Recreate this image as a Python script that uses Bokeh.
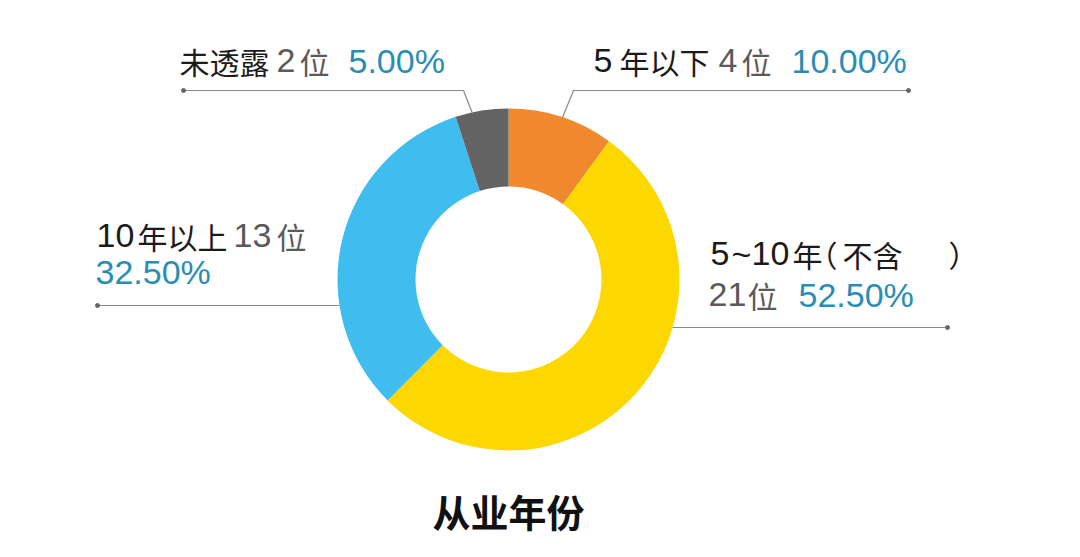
import math
import re
from bokeh.plotting import figure
from bokeh.models import Range1d
from bokeh.core.properties import value
from bokeh.embed import file_html
from bokeh.resources import INLINE

# ---- data ----
categories = ["5 年以下", "5 ~ 10 年（不含）", "10 年以上", "未透露"]
counts = [4, 21, 13, 2]
count_labels = ["4 位", "21 位", "13 位", "2 位"]
percents = ["10.00%", "52.50%", "32.50%", "5.00%"]
colors = ["#F0892E", "#FDD700", "#3EBDEE", "#636363"]
title = "从业年份"

# ---- layout (image pixel coordinates; y flipped below) ----
W, H = 1064, 541
def Y(py):
    return 557 - py

p = figure(width=W, height=H, x_range=Range1d(0, W), y_range=Range1d(557 - H, 557),
           output_backend="svg", toolbar_location=None, min_border=0)
p.axis.visible = False
p.grid.visible = False
p.outline_line_color = None
p.background_fill_color = "white"

cx, cy = 508, Y(279)
R_out, R_in = 171, 93

total = sum(counts)
cum = 0
starts, ends = [], []
for c in counts:
    starts.append(math.pi / 2 - 2 * math.pi * cum / total)
    cum += c
    ends.append(math.pi / 2 - 2 * math.pi * cum / total)

p.annular_wedge(x=[cx] * len(counts), y=[cy] * len(counts), inner_radius=R_in, outer_radius=R_out,
                start_angle=starts, end_angle=ends, direction="clock",
                fill_color=colors, line_color=None)

LINE = "#8a8a8a"
# leader lines (layout)
p.line([562, 573, 908], [Y(117), Y(90), Y(90)], line_color=LINE, line_width=1.2)
p.line([472, 463, 183], [Y(113), Y(90), Y(90)], line_color=LINE, line_width=1.2)
yb, yy = Y(305), Y(327)
p.line([97, cx - math.sqrt(R_out**2 - (yb - cy) ** 2)], [yb, yb], line_color=LINE, line_width=1.2)
p.line([cx + math.sqrt(R_out**2 - (yy - cy) ** 2), 947], [yy, yy], line_color=LINE, line_width=1.2)
p.scatter(x=[908, 183, 97, 947], y=[Y(90), Y(90), yb, yy], size=4, color="#666666")

LATIN = value("Liberation Sans")
CJK = value("Noto Sans CJK SC")
BLACK, GRAY, BLUE = "#1b1b1b", "#5a5a5a", "#2A8DB3"

TOKEN = re.compile(r"[A-Za-z0-9.%~]+|[（）]|[\u4e00-\u9fff]+")

def label(txt, xs, py, color):
    toks = TOKEN.findall(txt)
    for t, x in zip(toks, xs):
        is_latin = re.match(r"[A-Za-z0-9.%~]", t) is not None
        p.text(x=[x], y=[Y(py)], text=[t], text_font=LATIN if is_latin else CJK,
               text_font_size="34px" if is_latin else "30px",
               text_color=color, text_align="left", text_baseline="middle")

# 未透露 2 位 5.00%
label(categories[3], [179], 60, BLACK)
label(count_labels[3], [276, 299], 60, GRAY)
label(percents[3], [348], 60, BLUE)
# 5 年以下 4 位 10.00%
label(categories[0], [593, 619], 60, BLACK)
label(count_labels[0], [718, 741], 60, GRAY)
label(percents[0], [791], 60, BLUE)
# 10 年以上 13 位 / 32.50%
label(categories[2], [96, 137], 235, BLACK)
label(count_labels[2], [233, 276], 235, GRAY)
label(percents[2], [95], 271, BLUE)
# 5 ~ 10 年（不含） / 21 位 52.50%
label(categories[1], [710, 731, 751, 792, 807, 842, 948], 253, BLACK)
label(count_labels[1], [708, 747], 294, GRAY)
label(percents[1], [798], 294, BLUE)

p.text(x=[cx], y=[Y(510)], text=[title], text_font=CJK, text_font_size="38px",
       text_font_style="bold", text_color="#111111", text_align="center", text_baseline="middle")

open("out.html", "w").write(file_html(p, INLINE))
